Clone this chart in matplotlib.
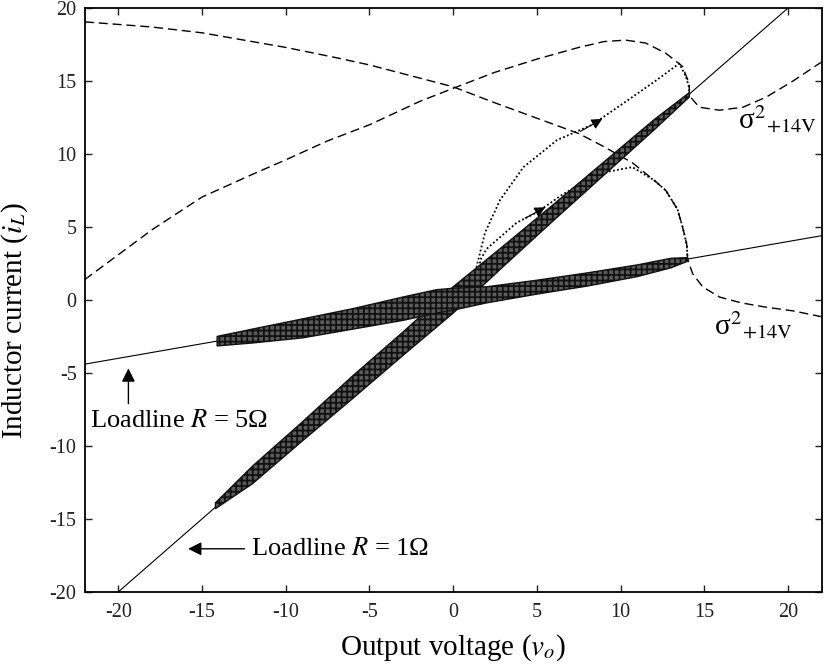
import matplotlib
matplotlib.use("Agg")
import matplotlib.pyplot as plt

plt.rcParams["font.family"] = ["Liberation Serif", "DejaVu Serif"]
plt.rcParams["mathtext.fontset"] = "stix"
plt.rcParams["axes.unicode_minus"] = False
plt.rcParams["hatch.linewidth"] = 1.3

# loadlines (R = 1 ohm and R = 5 ohm)
load_v = [-22, 22]
load_r1_i = [-22, 22]
load_r5_i = [-4.4, 4.4]

# thick trajectory bands along the loadlines (upper / lower envelope)
r1_band_v = [-14.2, -12, -9, -6, -3, 0, 3, 6, 9, 12, 14.1]
r1_band_hi = [-13.9, -11.4, -8.35, -5.2, -2.2, 0.9, 3.7, 6.55, 9.45, 12.35, 14.2]
r1_band_lo = [-14.3, -12.6, -9.65, -6.75, -3.8, -0.9, 2.3, 5.45, 8.55, 11.65, 13.9]

r5_band_v = [-14.1, -12, -9, -6, -3, -1, 0, 2, 5, 8, 11, 13, 14]
r5_band_hi = [-2.5, -2.0, -1.3, -0.6, 0.2, 0.7, 0.8, 0.9, 1.35, 1.85, 2.4, 2.85, 2.9]
r5_band_lo = [-3.15, -2.95, -2.6, -2.0, -1.4, -0.9, -0.7, -0.2, 0.4, 0.95, 1.6, 2.2, 2.65]

# dashed switching curves
curve_a_v = [-22, -18, -15, -12, -10, -7, -5, -2, 0, 2.5, 5, 7.5, 9, 10.7, 12, 12.7,
             13.4, 13.7, 13.95, 14.0, 14.3, 14.9, 15.9, 17.2, 18.7, 20.3, 22]
curve_a_i = [19.05, 18.7, 18.3, 17.7, 17.3, 16.6, 16.1, 15.2, 14.6, 13.5, 12.45, 11.4, 10.5, 9.4, 8.2, 7.5,
             6.2, 5.0, 3.8, 2.8, 1.8, 0.9, 0.2, -0.2, -0.5, -0.75, -1.15]

curve_b_v = [-22, -18, -15, -12, -10, -7.5, -5, -2, 0, 2.5, 5, 7.5, 9, 10.3, 11.5, 12.7,
             13.7, 14.1, 14.1, 14.7, 15.9, 17.3, 18.7, 20.3, 22]
curve_b_i = [1.4, 4.8, 7.05, 8.6, 9.6, 10.9, 12.0, 13.6, 14.5, 15.6, 16.5, 17.3, 17.7, 17.8, 17.6, 16.9,
             16.0, 14.8, 14.0, 13.2, 13.0, 13.2, 13.9, 15.0, 16.3]

# dotted transient trajectories
traj_up_v = [1.3, 1.4, 1.9, 2.8, 4.2, 6.2, 8.3, 10.7, 12.2, 13.5, 13.9, 14.1, 14.1]
traj_up_i = [0.8, 2.3, 4.6, 6.85, 9.1, 10.95, 12.0, 13.9, 15.1, 16.2, 15.3, 14.5, 14.0]

traj_lo_v = [1.7, 1.6, 2.0, 2.8, 3.8, 5.0, 6.5, 8.0, 9.3, 10.7, 12.0, 12.7, 13.4, 13.7, 13.95, 14.0]
traj_lo_i = [0.8, 2.7, 3.5, 4.3, 5.3, 6.0, 7.2, 8.2, 8.8, 9.1, 8.2, 7.5, 6.2, 5.0, 3.8, 2.8]

fig = plt.figure(figsize=(8.24, 6.68), dpi=100)
ax = fig.add_axes([0.103, 0.114, 0.894, 0.874])

ax.plot(load_v, load_r1_i, color="black", lw=0.8)
ax.plot(load_v, load_r5_i, color="black", lw=0.8)

ax.fill_between(r1_band_v, r1_band_lo, r1_band_hi, facecolor="#5a5a5a",
                edgecolor="#111111", hatch="+++", lw=1.0, zorder=3)
ax.fill_between(r5_band_v, r5_band_lo, r5_band_hi, facecolor="#5a5a5a",
                edgecolor="#111111", hatch="+++", lw=1.0, zorder=3)

ax.plot(curve_a_v, curve_a_i, color="black", lw=1.0, dashes=(6.5, 3.5))
ax.plot(curve_b_v, curve_b_i, color="black", lw=1.0, dashes=(6.5, 3.5))

ax.plot(traj_up_v, traj_up_i, color="black", lw=1.3, dashes=(1, 1.3))
ax.plot(traj_lo_v, traj_lo_i, color="black", lw=1.3, dashes=(1, 1.3))

# direction arrows on the trajectories
ax.annotate("", xy=(8.9, 12.4), xytext=(7.6, 11.55),
            arrowprops=dict(arrowstyle="-|>", color="black", lw=0.8,
                            mutation_scale=16, shrinkA=0, shrinkB=0))
ax.annotate("", xy=(5.5, 6.35), xytext=(4.3, 5.6),
            arrowprops=dict(arrowstyle="-|>", color="black", lw=0.8,
                            mutation_scale=16, shrinkA=0, shrinkB=0))

# labels
sigma_label = "σ${}^{2}{}_{\\mathrm{+14V}}$"
ax.text(17.0, 11.8, sigma_label, fontsize=21, va="baseline")
ax.text(15.6, -2.3, sigma_label, fontsize=21, va="baseline")

ax.text(-21.7, -8.3, "Loadline $R$ = 5Ω", fontsize=19, va="center", ha="left")
ax.annotate("", xy=(-19.4, -4.5), xytext=(-19.4, -7.3),
            arrowprops=dict(arrowstyle="-|>", color="black", lw=1, mutation_scale=20))
ax.text(-12.1, -17.05, "Loadline $R$ = 1Ω", fontsize=19, va="center", ha="left")
ax.annotate("", xy=(-16.0, -17.05), xytext=(-12.3, -17.05),
            arrowprops=dict(arrowstyle="-|>", color="black", lw=1, mutation_scale=20))

ax.set_xlim(-22, 22)
ax.set_ylim(-20, 20)
ax.set_xticks(range(-20, 21, 5))
ax.set_yticks(range(-20, 21, 5))
ax.tick_params(direction="in", length=5, width=1, top=True, right=True,
               labelsize=14.5, colors="#222222")
ax.tick_params(axis="x", pad=8)
ax.tick_params(axis="y", pad=6)
for s in ax.spines.values():
    s.set_linewidth(1.3)

ax.set_xlabel("Output voltage ($v_o$)", fontsize=21)
ax.set_ylabel("Inductor current ($i_L$)", fontsize=21)
ax.xaxis.set_label_coords(0.5, -0.07)
ax.yaxis.set_label_coords(-0.075, 0.465)

fig.savefig("out.png", dpi=100)
